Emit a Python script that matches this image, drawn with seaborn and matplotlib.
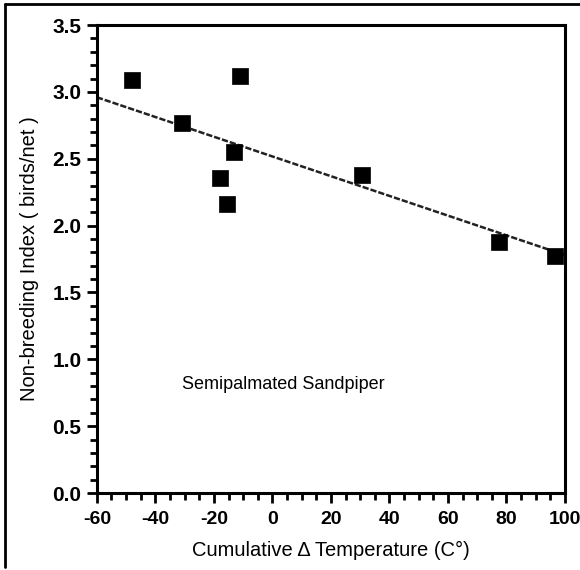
import matplotlib.pyplot as plt
import seaborn as sns
import pandas as pd
from matplotlib.ticker import MultipleLocator
from matplotlib.lines import Line2D

# data
temp_change = [-48, -31, -11, -13, -18, -15.5, 30.5, 77.5, 96.5]
nonbreeding_index = [3.09, 2.77, 3.12, 2.55, 2.36, 2.16, 2.38, 1.88, 1.77]
fit_temp = [-60, 100]
fit_index = [2.96, 1.78]

x_ticks = [-60, -40, -20, 0, 20, 40, 60, 80, 100]
y_ticks = [0.0, 0.5, 1.0, 1.5, 2.0, 2.5, 3.0, 3.5]

sns.set_style('ticks')
plt.rcParams['font.family'] = ['Liberation Sans', 'DejaVu Sans']
plt.rcParams['text.color'] = 'black'
plt.rcParams['axes.labelcolor'] = 'black'
plt.rcParams['xtick.color'] = 'black'
plt.rcParams['ytick.color'] = 'black'


def main():
    df = pd.DataFrame({'temp': temp_change, 'index': nonbreeding_index})
    fit = pd.DataFrame({'temp': fit_temp, 'index': fit_index})

    fig = plt.figure(figsize=(5.8, 5.7), dpi=100)
    ax = fig.add_axes([0.167, 0.135, 0.807, 0.821])

    sns.lineplot(fit, x='temp', y='index', ax=ax, color='#222222',
                 linewidth=1.8, linestyle=(0, (2.5, 0.8)))
    sns.scatterplot(df, x='temp', y='index', ax=ax, marker='s', s=135,
                    color='black', edgecolor='black', linewidth=0.5, zorder=3)

    ax.set_xlim(-60, 100)
    ax.set_ylim(0, 3.5)
    ax.set_xticks(x_ticks)
    ax.set_yticks(y_ticks)
    ax.set_xticklabels([str(t) for t in x_ticks])
    ax.set_yticklabels([f'{t:.1f}' for t in y_ticks])
    ax.xaxis.set_minor_locator(MultipleLocator(5))
    ax.yaxis.set_minor_locator(MultipleLocator(0.1))
    ax.tick_params(which='major', length=7, width=2)
    ax.tick_params(axis='x', which='major', pad=6, labelsize=14)
    ax.tick_params(axis='y', which='major', pad=4, labelsize=15)
    ax.tick_params(which='minor', length=5, width=2)
    for lab in ax.get_xticklabels() + ax.get_yticklabels():
        lab.set_fontweight('bold')
    for sp in ax.spines.values():
        sp.set_linewidth(2.2)
        sp.set_color('black')

    ax.set_xlabel('Cumulative \u0394 Temperature (C\u00b0)', fontsize=14.5,
                  labelpad=9)
    ax.set_ylabel('Non-breeding Index ( birds/net )', fontsize=14.5,
                  labelpad=10)
    ax.text(-31, 0.81, 'Semipalmated Sandpiper', fontsize=13,
            ha='left', va='center')

    # border of the scanned panel
    fig.add_artist(Line2D([0.008, 0.008], [0.005, 0.993], color='black',
                          linewidth=2, transform=fig.transFigure))
    fig.add_artist(Line2D([0.008, 1.0], [0.993, 0.993], color='black',
                          linewidth=2, transform=fig.transFigure))

    fig.savefig('out.png', dpi=100)


if __name__ == '__main__':
    main()
